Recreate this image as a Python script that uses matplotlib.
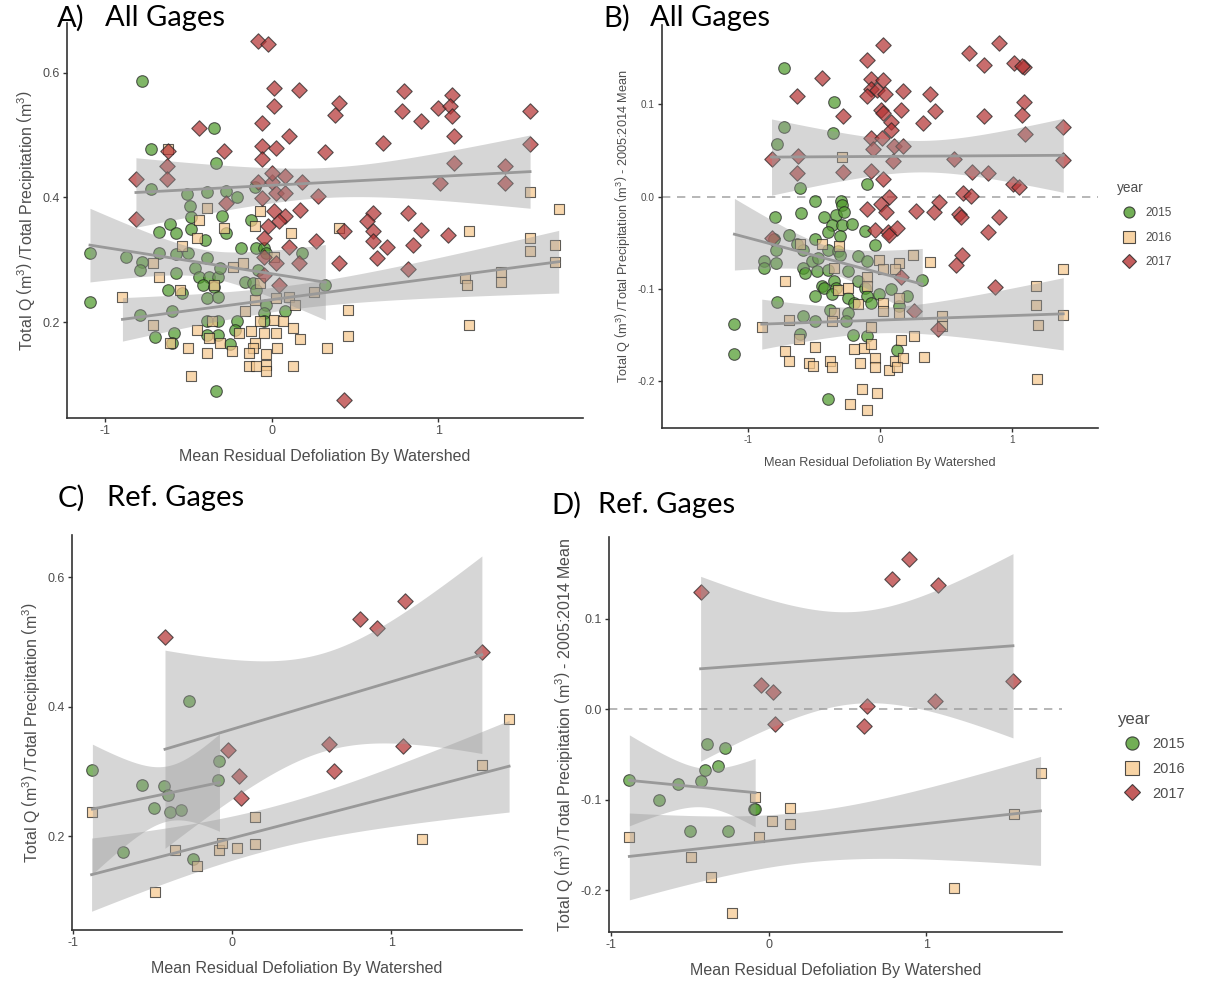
import numpy as np
import matplotlib
matplotlib.use("Agg")
import matplotlib.pyplot as plt
from matplotlib.lines import Line2D

# ---------------- data ----------------
# Panel A: all gages, runoff ratio
a15_x = [-0.78, -0.345, -0.724, -0.333, -0.724, -0.51, -0.39, -0.276, -0.207, -0.103,
         -0.494, -0.483, -0.483, -0.678, -0.609, -0.575, -0.299, -0.276, -0.402, -0.184,
         -0.126, -0.092, -0.046, -1.092, -0.874, -0.782, -0.793, -0.678, -0.575, -0.506,
         -0.575, -0.46, -0.437, -0.39, -0.379, -0.322, -0.31, -0.414, -0.345, -0.161,
         -0.115, -0.08, -0.034, 0.184, 0.322, -0.621, -0.54, -0.39, -0.322, -0.092,
         -0.034, -1.092, -0.793, -0.598, -0.39, -0.322, -0.207, -0.046, 0.08, -0.701,
         -0.586, -0.598, -0.39, -0.322, -0.253, -0.218, -0.046, -0.333]
a15_y = [0.587, 0.512, 0.477, 0.455, 0.414, 0.405, 0.408, 0.411, 0.40, 0.416,
         0.386, 0.369, 0.35, 0.345, 0.358, 0.343, 0.37, 0.343, 0.332, 0.319,
         0.364, 0.319, 0.319, 0.311, 0.304, 0.297, 0.284, 0.311, 0.31, 0.311,
         0.279, 0.287, 0.273, 0.303, 0.273, 0.273, 0.287, 0.26, 0.257, 0.265,
         0.263, 0.284, 0.311, 0.311, 0.26, 0.252, 0.247, 0.239, 0.241, 0.252,
         0.228, 0.232, 0.212, 0.217, 0.201, 0.201, 0.201, 0.214, 0.217, 0.176,
         0.182, 0.167, 0.18, 0.18, 0.164, 0.187, 0.201, 0.089]
a16_x = [-0.621, -0.069, -0.39, -0.437, -0.287, -0.103, 0.115, 0.402, -0.448, 1.184,
         -0.54, 1.552, 1.724, 1.552, 1.552, 1.701, 1.701, -0.713, -0.678, -0.23,
         -0.172, 0.011, -0.345, -0.552, -0.069, 1.161, 1.172, 1.379, 1.379, -0.897,
         -0.103, 0.023, 0.103, 0.253, 0.138, -0.161, 0.46, -0.356, -0.069, 0.011,
         0.069, -0.713, -0.448, -0.126, 0.126, 1.184, -0.195, -0.046, 0.023, -0.379,
         0.172, 0.46, -0.103, -0.609, -0.31, -0.506, -0.115, 0.333, -0.39, -0.241,
         -0.138, -0.034, -0.034, -0.138, -0.092, -0.034, 0.126, -0.483, 0.034]
a16_y = [0.477, 0.378, 0.383, 0.364, 0.351, 0.354, 0.343, 0.351, 0.335, 0.346,
         0.322, 0.408, 0.382, 0.335, 0.314, 0.324, 0.296, 0.295, 0.272, 0.289,
         0.295, 0.305, 0.26, 0.251, 0.263, 0.271, 0.26, 0.281, 0.265, 0.241,
         0.236, 0.239, 0.241, 0.249, 0.228, 0.217, 0.22, 0.201, 0.201, 0.204,
         0.201, 0.196, 0.188, 0.185, 0.19, 0.196, 0.182, 0.182, 0.182, 0.174,
         0.172, 0.177, 0.166, 0.166, 0.166, 0.158, 0.158, 0.158, 0.15, 0.153,
         0.15, 0.148, 0.131, 0.129, 0.129, 0.121, 0.129, 0.114, 0.158]
a17_x = [-0.08, -0.023, 0.011, 0.161, 0.793, 1.08, 0.782, 1.0, 1.069, 1.08,
         1.552, 0.402, 0.379, 0.011, 0.897, -0.057, -0.437, 0.103, 1.092, -0.287,
         -0.621, -0.057, 0.023, -0.057, 0.322, 0.667, 1.552, -0.632, 1.092, 1.402,
         -0.632, -0.816, -0.08, 0.0, 0.08, 0.184, 1.011, 1.402, 0.0, -0.057,
         0.023, 0.08, 0.276, -0.276, 0.011, 0.172, -0.816, 0.08, 0.609, 0.816,
         -0.023, 0.046, 0.575, 0.609, 0.437, 0.897, 1.057, -0.046, 0.103, 0.264,
         0.609, 0.69, 0.851, -0.046, 0.023, 0.161, 0.632, 0.402, 0.816, -0.046,
         0.046, 0.437]
a17_y = [0.651, 0.646, 0.576, 0.573, 0.571, 0.565, 0.538, 0.544, 0.546, 0.53,
         0.539, 0.551, 0.533, 0.546, 0.522, 0.52, 0.512, 0.498, 0.498, 0.474,
         0.474, 0.482, 0.479, 0.461, 0.473, 0.488, 0.485, 0.45, 0.455, 0.45,
         0.43, 0.43, 0.424, 0.424, 0.434, 0.424, 0.423, 0.423, 0.439, 0.399,
         0.407, 0.407, 0.402, 0.391, 0.378, 0.38, 0.366, 0.37, 0.375, 0.375,
         0.354, 0.362, 0.362, 0.346, 0.346, 0.348, 0.34, 0.335, 0.321, 0.33,
         0.33, 0.321, 0.324, 0.305, 0.295, 0.295, 0.303, 0.295, 0.285, 0.276,
         0.26, 0.075]

# Panel B: all gages, anomaly from 2005:2014 mean
b15_x = [-0.723, -0.347, -0.723, -0.356, -0.782, -0.604, -0.101, -0.495, -0.296, -0.287,
         -0.791, -0.599, -0.421, -0.332, -0.273, -0.361, -0.287, -0.213, -0.11, -0.391,
         -0.687, -0.495, -0.302, -0.036, -0.806, -0.628, -0.584, -0.79, -0.391, -0.317,
         -0.516, -0.47, -0.302, -0.169, -0.095, -0.88, -0.79, -0.584, -0.48, -0.391,
         -0.88, -0.569, -0.243, 0.32, -0.436, -0.347, -0.332, -0.169, -0.421, -0.11,
         0.083, -0.495, -0.361, -0.243, -0.095, -0.006, 0.201, -0.782, -0.199, -0.065,
         0.142, -0.584, -0.376, -0.243, -0.495, -0.258, -0.604, -0.207, -0.095, 0.127,
         -1.102, -1.102, -0.397]
b15_y = [0.139, 0.103, 0.075, 0.069, 0.057, 0.009, 0.014, -0.005, -0.005, -0.009,
         -0.022, -0.018, -0.022, -0.02, -0.017, -0.031, -0.031, -0.03, -0.037, -0.038,
         -0.042, -0.046, -0.043, -0.053, -0.046, -0.051, -0.058, -0.058, -0.058, -0.059,
         -0.07, -0.067, -0.063, -0.065, -0.07, -0.07, -0.072, -0.078, -0.081, -0.08,
         -0.078, -0.083, -0.081, -0.09, -0.097, -0.092, -0.099, -0.092, -0.099, -0.099,
         -0.1, -0.108, -0.106, -0.11, -0.108, -0.106, -0.108, -0.114, -0.115, -0.115,
         -0.119, -0.13, -0.123, -0.126, -0.135, -0.135, -0.149, -0.15, -0.151, -0.166,
         -0.138, -0.171, -0.22]
b16_x = [-0.287, -0.604, -0.436, -0.308, -0.006, 0.142, 0.246, 0.379, 0.113, 1.387,
         0.024, -0.347, -0.717, -0.095, -0.095, -0.317, 1.179, -0.243, 0.142, 0.024,
         -0.169, 1.179, -0.347, 0.024, 0.142, -0.687, -0.361, 0.468, 1.387, 1.194,
         -0.895, -0.065, 0.468, -0.613, 0.157, 0.261, -0.495, -0.199, -0.124, -0.065,
         -0.717, -0.687, -0.539, -0.51, -0.376, -0.361, -0.154, -0.036, -0.036, 0.068,
         0.113, 0.172, 0.127, 0.335, -0.139, -0.021, -0.228, -0.101, 1.185]
b16_y = [0.043, -0.052, -0.051, -0.054, -0.069, -0.072, -0.063, -0.071, -0.079, -0.079,
         -0.079, -0.078, -0.092, -0.087, -0.097, -0.101, -0.097, -0.099, -0.11, -0.115,
         -0.117, -0.118, -0.126, -0.124, -0.126, -0.134, -0.135, -0.13, -0.129, -0.139,
         -0.142, -0.142, -0.14, -0.155, -0.156, -0.151, -0.163, -0.165, -0.164, -0.16,
         -0.168, -0.178, -0.181, -0.184, -0.178, -0.185, -0.18, -0.175, -0.185, -0.188,
         -0.178, -0.175, -0.185, -0.174, -0.209, -0.213, -0.225, -0.231, -0.198]
b17_x = [0.024, 0.898, 0.67, -0.101, 0.788, 1.016, 1.09, 1.076, -0.436, -0.065,
         0.024, -0.628, -0.065, -0.021, -0.095, 0.039, 0.172, 0.379, 1.09, -0.279,
         0.009, 0.024, 0.157, 0.415, 0.326, 0.788, 1.076, 0.083, 0.083, 1.387,
         1.096, -0.071, 0.018, 0.107, 0.172, -0.821, -0.622, -0.05, 0.098, 0.557,
         1.387, -0.279, -0.628, -0.065, 0.024, 0.699, 0.818, 1.01, 1.055, 0.631,
         0.69, 0.068, 0.009, 0.047, -0.095, 0.276, 0.409, 0.444, 0.601, 0.61,
         0.898, -0.036, 0.062, 0.071, 0.13, 0.818, -0.821, 0.622, 0.572, 0.868,
         0.261, 0.439, 0.157]
b17_y = [0.164, 0.166, 0.156, 0.148, 0.143, 0.145, 0.14, 0.142, 0.128, 0.127,
         0.126, 0.109, 0.117, 0.116, 0.109, 0.111, 0.114, 0.111, 0.103, 0.087,
         0.094, 0.091, 0.094, 0.093, 0.08, 0.087, 0.088, 0.081, 0.072, 0.075,
         0.068, 0.063, 0.063, 0.055, 0.055, 0.041, 0.044, 0.052, 0.038, 0.041,
         0.04, 0.027, 0.025, 0.028, 0.019, 0.027, 0.026, 0.014, 0.01, 0.004,
         0.001, 0.0, -0.008, -0.017, -0.014, -0.016, -0.017, -0.006, -0.019, -0.022,
         -0.022, -0.036, -0.038, -0.042, -0.034, -0.038, -0.045, -0.063, -0.074, -0.098,
         -0.124, -0.144, -0.087]

# Panel C: reference gages, runoff ratio
c15_x = [-0.878, -0.688, -0.566, -0.488, -0.427, -0.402, -0.39, -0.322, -0.273, -0.244, -0.09, -0.08]
c15_y = [0.302, 0.176, 0.279, 0.243, 0.277, 0.263, 0.237, 0.241, 0.409, 0.164, 0.286, 0.316]
c16_x = [-0.883, -0.483, -0.359, -0.224, -0.085, -0.061, 0.029, 0.141, 0.141, 1.195, 1.568, 1.739]
c16_y = [0.238, 0.113, 0.178, 0.154, 0.179, 0.189, 0.182, 0.229, 0.188, 0.195, 0.31, 0.381]
c17_x = [-0.422, -0.029, 0.041, 0.054, 0.61, 0.639, 0.8, 0.907, 1.085, 1.073, 1.568]
c17_y = [0.508, 0.333, 0.293, 0.259, 0.343, 0.3, 0.536, 0.522, 0.563, 0.339, 0.484]

# Panel D: reference gages, anomaly from 2005:2014 mean
d15_x = [-0.884, -0.695, -0.576, -0.5, -0.432, -0.405, -0.392, -0.324, -0.278, -0.257, -0.095, -0.086]
d15_y = [-0.078, -0.1, -0.083, -0.135, -0.079, -0.067, -0.038, -0.063, -0.043, -0.134, -0.11, -0.11]
d16_x = [-0.884, -0.495, -0.365, -0.232, -0.086, -0.062, 0.019, 0.135, 0.135, 1.176, 1.554, 1.724]
d16_y = [-0.141, -0.163, -0.185, -0.225, -0.097, -0.141, -0.124, -0.109, -0.127, -0.197, -0.116, -0.071]
d17_x = [-0.432, -0.046, 0.027, 0.041, 0.603, 0.622, 0.784, 0.892, 1.073, 1.054, 1.549]
d17_y = [0.129, 0.027, 0.019, -0.016, -0.019, 0.003, 0.144, 0.166, 0.137, 0.009, 0.031]

years = ["2015", "2016", "2017"]
fills = {"2015": "#4f9a2c", "2016": "#f6c88e", "2017": "#b53535"}
shapes = {"2015": ("o", 70), "2016": ("s", 62), "2017": ("D", 62)}

ylab_ratio = r"Total Q $\left(\mathrm{m}^3\right)$ /Total Precipitation $\left(\mathrm{m}^3\right)$"
ylab_anom = ylab_ratio + " - 2005:2014 Mean"
xlab = "Mean Residual Defoliation By Watershed"

plt.rcParams["font.family"] = ["Liberation Sans", "DejaVu Sans"]
plt.rcParams["mathtext.fontset"] = "custom"
plt.rcParams["mathtext.rm"] = "Liberation Sans"
plt.rcParams["axes.unicode_minus"] = False


def t_crit(dof):
    # Cornish-Fisher approximation of the 97.5% t quantile
    z = 1.959964
    g1 = (z**3 + z) / 4
    g2 = (5 * z**5 + 16 * z**3 + 3 * z) / 96
    g3 = (3 * z**7 + 19 * z**5 + 17 * z**3 - 15 * z) / 384
    return z + g1 / dof + g2 / dof**2 + g3 / dof**3


def smooth(ax, x, y):
    x = np.asarray(x, float)
    y = np.asarray(y, float)
    n = len(x)
    b, a = np.polyfit(x, y, 1)
    xs = np.linspace(x.min(), x.max(), 80)
    fit = a + b * xs
    s = np.sqrt(np.sum((y - (a + b * x)) ** 2) / (n - 2))
    sxx = np.sum((x - x.mean()) ** 2)
    h = t_crit(n - 2) * s * np.sqrt(1 / n + (xs - x.mean()) ** 2 / sxx)
    ax.fill_between(xs, fit - h, fit + h, color="#999999", alpha=0.4, lw=0, zorder=3)
    ax.plot(xs, fit, color="#999999", lw=2.0, zorder=4)


def panel(rect, series, xlim, ylim, yticks, fs_tick, fs_lab, ylabel, zero=False):
    ax = fig.add_axes(rect)
    for yr, (x, y) in zip(years, series):
        m, s = shapes[yr]
        ax.scatter(x, y, marker=m, s=s, facecolor=fills[yr], edgecolor="#222222",
                   linewidth=0.8, alpha=0.72, zorder=2)
    for x, y in series:
        smooth(ax, x, y)
    if zero:
        ax.axhline(0, color="#aaaaaa", lw=1.2, ls=(0, (5, 4)), zorder=1)
    ax.set_xlim(*xlim)
    ax.set_ylim(*ylim)
    ax.set_xticks([-1, 0, 1])
    ax.set_yticks(yticks)
    ax.set_xticklabels(["-1", "0", "1"])
    ax.set_yticklabels(["%.1f" % v for v in yticks])
    for sp in ("top", "right"):
        ax.spines[sp].set_visible(False)
    for sp in ("left", "bottom"):
        ax.spines[sp].set_linewidth(1.2)
        ax.spines[sp].set_color("#333333")
    ax.tick_params(length=3, width=1, color="#333333", labelsize=fs_tick,
                   labelcolor="#4d4d4d", pad=2)
    ax.set_xlabel(xlab, fontsize=fs_lab, color="#4d4d4d", labelpad=9)
    ax.set_ylabel(ylabel, fontsize=fs_lab, color="#4d4d4d", labelpad=4)
    return ax


def legend(x, y, fs, ms, spacing):
    handles = [Line2D([], [], ls="", marker=shapes[yr][0], ms=ms * (0.85 if yr == "2017" else 1.0),
                      markerfacecolor=fills[yr], markeredgecolor="#222222", alpha=0.8,
                      markeredgewidth=0.8) for yr in years]
    lg = fig.legend(handles, years, title="year", loc="upper left",
                    bbox_to_anchor=(x / W, 1 - y / H), frameon=False, fontsize=fs,
                    title_fontsize=fs * 1.15, alignment="left", handletextpad=0.4,
                    labelspacing=spacing, borderaxespad=0, borderpad=0)
    for t in lg.get_texts():
        t.set_color("#4d4d4d")
    lg.get_title().set_color("#4d4d4d")


W, H = 1208, 981
fig = plt.figure(figsize=(W / 100, H / 100), dpi=100)


def rect(l, r, t, b):
    return [l / W, 1 - b / H, (r - l) / W, (b - t) / H]


panel(rect(67, 583, 23, 418), [(a15_x, a15_y), (a16_x, a16_y), (a17_x, a17_y)],
      (-1.23, 1.87), (0.046, 0.68), [0.2, 0.4, 0.6], 9, 11.5, ylab_ratio)
panel(rect(662, 1098, 25, 428), [(b15_x, b15_y), (b16_x, b16_y), (b17_x, b17_y)],
      (-1.65, 1.65), (-0.251, 0.186), [-0.2, -0.1, 0.0, 0.1], 7.2, 9.2, ylab_anom, zero=True)
panel(rect(72, 522, 535, 930), [(c15_x, c15_y), (c16_x, c16_y), (c17_x, c17_y)],
      (-1.006, 1.82), (0.055, 0.665), [0.2, 0.4, 0.6], 9, 11.5, ylab_ratio)
panel(rect(609, 1062, 537, 932), [(d15_x, d15_y), (d16_x, d16_y), (d17_x, d17_y)],
      (-1.013, 1.86), (-0.246, 0.19), [-0.2, -0.1, 0.0, 0.1], 9, 11.5, ylab_anom, zero=True)

legend(1117, 181, 8.5, 8, 1.05)
legend(1117, 712, 10.5, 9.5, 0.72)

title_font = ["Lato", "DejaVu Sans"]
for label, x, y in [("A)", 57, 18), ("B)", 603, 18), ("C)", 58, 498), ("D)", 551, 505)]:
    fig.text(x / W, 1 - y / H, label, fontsize=21, family=title_font, va="center")
for label, x, y in [("All Gages", 105, 18), ("All Gages", 650, 18),
                    ("Ref. Gages", 107, 498), ("Ref. Gages", 598, 505)]:
    fig.text(x / W, 1 - y / H, label, fontsize=21, family=title_font, va="center")

fig.savefig("out.png", dpi=100)
